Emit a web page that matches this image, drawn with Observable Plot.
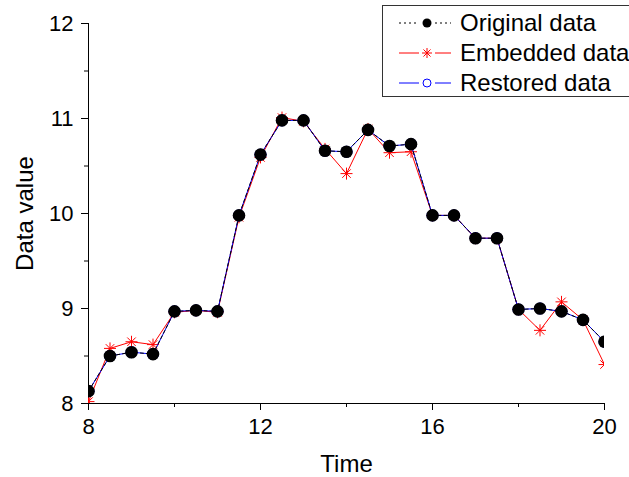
<!DOCTYPE html>
<html>
<head>
<meta charset="utf-8">
<script src="https://cdn.jsdelivr.net/npm/d3@7"></script>
<script src="https://cdn.jsdelivr.net/npm/@observablehq/plot@0.6"></script>
<style>
  html, body { margin: 0; padding: 0; background: #fff; }
  #chart { width: 629px; height: 477px; }
</style>
</head>
<body>
<div id="chart"></div>
<script>
const times = [8, 8.5, 9, 9.5, 10, 10.5, 11, 11.5, 12, 12.5, 13, 13.5, 14, 14.5, 15, 15.5, 16, 16.5, 17, 17.5, 18, 18.5, 19, 19.5, 20];
const original = [8.13, 8.50, 8.54, 8.52, 8.97, 8.98, 8.97, 9.98, 10.62, 10.98, 10.98, 10.66, 10.65, 10.88, 10.71, 10.73, 9.98, 9.98, 9.74, 9.74, 8.99, 9.00, 8.97, 8.88, 8.65];
const embedded = [8.02, 8.58, 8.65, 8.62, 8.96, 8.98, 8.96, 9.96, 10.59, 11.01, 10.97, 10.68, 10.42, 10.89, 10.64, 10.65, 9.98, 9.98, 9.74, 9.74, 8.99, 8.77, 9.07, 8.88, 8.41];
const restored = [8.13, 8.50, 8.54, 8.52, 8.97, 8.98, 8.97, 9.98, 10.62, 10.98, 10.98, 10.66, 10.65, 10.88, 10.71, 10.73, 9.98, 9.98, 9.74, 9.74, 8.99, 9.00, 8.97, 8.88, 8.65];
const seriesNames = ["Original data", "Embedded data", "Restored data"];
const xTicks = [8, 12, 16, 20];
const xMinor = [10, 14, 18];
const yTicks = [8, 9, 10, 11, 12];
const yMinor = [8.5, 9.5, 10.5, 11.5];

const rows = (vals) => times.map((t, i) => ({t, v: vals[i]}));
const dOrig = rows(original), dEmb = rows(embedded), dRes = rows(restored);

// 8-armed asterisk symbol (Origin-style star)
const star8 = {
  draw(ctx, size) {
    const r = Math.sqrt(size / Math.PI);
    const d = r * Math.SQRT1_2;
    ctx.moveTo(-r, 0); ctx.lineTo(r, 0);
    ctx.moveTo(0, -r); ctx.lineTo(0, r);
    ctx.moveTo(-d, -d); ctx.lineTo(d, d);
    ctx.moveTo(-d, d); ctx.lineTo(d, -d);
  }
};

const FONT = "Liberation Sans, Arial, sans-serif";
const fmt = d => String(d);

const plot = Plot.plot({
  width: 629,
  height: 477,
  marginLeft: 88,
  marginRight: 25,
  marginTop: 23,
  marginBottom: 74,
  style: {fontFamily: FONT, fontSize: "22px", color: "#000", background: "#fff"},
  x: {domain: [8, 20]},
  y: {domain: [8, 12]},
  marks: [
    Plot.axisX(xTicks, {tickSize: 7, tickPadding: 8, tickFormat: fmt, label: null, fontSize: 22}),
    Plot.axisX({ticks: [], label: "Time", labelAnchor: "center", labelOffset: 68, labelArrow: "none", fontSize: 24}),
    Plot.axisX(xMinor, {tickSize: 4, text: null, label: null}),
    Plot.axisY(yTicks, {tickSize: 7, tickPadding: 8, tickFormat: fmt, label: null, fontSize: 22}),
    Plot.axisY({ticks: [], label: "Data value", labelAnchor: "center", labelOffset: 73, labelArrow: "none", fontSize: 24}),
    Plot.axisY(yMinor, {tickSize: 4, text: null, label: null}),
    Plot.frame({anchor: "left", stroke: "#000"}),
    Plot.frame({anchor: "bottom", stroke: "#000"}),
    // Embedded (red)
    Plot.line(dEmb, {x: "t", y: "v", stroke: "#ff0000", strokeWidth: 1, clip: true}),
    Plot.dot(dEmb, {x: "t", y: "v", symbol: star8, r: 6, stroke: "#ff0000", strokeWidth: 1, clip: true}),
    // Restored (blue)
    Plot.line(dRes, {x: "t", y: "v", stroke: "#0000ff", strokeWidth: 1, clip: true}),
    Plot.dot(dRes, {x: "t", y: "v", r: 5.5, stroke: "#0000ff", fill: "none", strokeWidth: 1, clip: true}),
    // Original (black)
    Plot.line(dOrig, {x: "t", y: "v", stroke: "#000", strokeWidth: 1, strokeDasharray: "3,3", clip: true}),
    Plot.dot(dOrig, {x: "t", y: "v", r: 6.3, fill: "#000", stroke: "none", clip: true})
  ]
});

document.getElementById("chart").appendChild(plot);

// Legend (drawn inside the SVG)
const svg = d3.select(plot);
const lg = svg.append("g").attr("font-family", FONT).attr("font-size", 24).attr("text-anchor", "start");
lg.append("rect").attr("x", 382.5).attr("y", 5.5).attr("width", 270).attr("height", 91)
  .attr("fill", "#fff").attr("stroke", "#333").attr("stroke-width", 1);
const rowY = [23, 53, 83];
const styles = [
  {stroke: "#000", dash: "2,3"},
  {stroke: "#ff0000", dash: null},
  {stroke: "#0000ff", dash: null}
];
seriesNames.forEach((name, i) => {
  const y = rowY[i];
  const s = styles[i];
  [[399, 419], [435, 451]].forEach(([a, b]) => {
    const ln = lg.append("line").attr("x1", a).attr("x2", b).attr("y1", y).attr("y2", y)
      .attr("stroke", s.stroke).attr("stroke-width", 1);
    if (s.dash) ln.attr("stroke-dasharray", s.dash);
  });
  if (i === 0) {
    lg.append("circle").attr("cx", 427).attr("cy", y).attr("r", 4.5).attr("fill", "#000");
  } else if (i === 1) {
    lg.append("path").attr("transform", `translate(427,${y})`)
      .attr("d", d3.symbol(star8, Math.PI * 25)())
      .attr("stroke", "#ff0000").attr("fill", "none");
  } else {
    lg.append("circle").attr("cx", 427).attr("cy", y).attr("r", 4).attr("fill", "none").attr("stroke", "#0000ff");
  }
  lg.append("text").attr("x", 460).attr("y", y).attr("dy", "0.35em").text(name);
});
</script>
</body>
</html>
